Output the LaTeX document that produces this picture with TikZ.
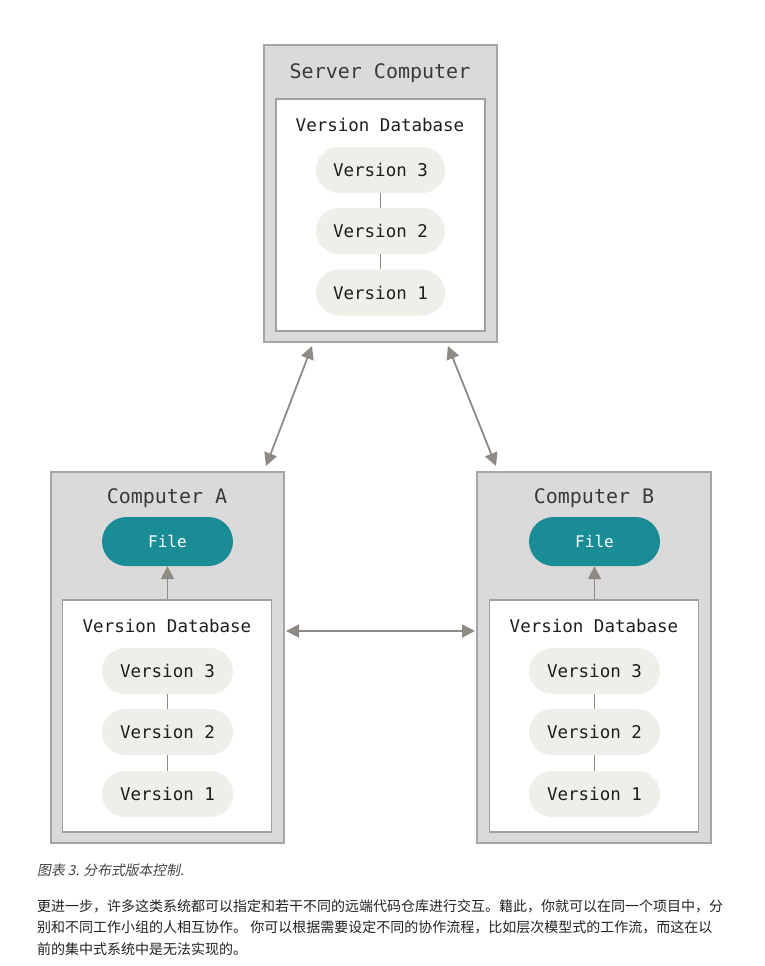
\documentclass[tikz,border=0pt]{standalone}
\usepackage{fontspec}
\setmonofont{DejaVu Sans Mono}
\newfontfamily\cjk{Noto Sans CJK SC}
\newfontfamily\cjkit[FakeSlant=0.2]{Noto Sans CJK SC}
\usetikzlibrary{arrows.meta,calc}
\definecolor{outerfill}{HTML}{DADADA}
\definecolor{outerline}{HTML}{A6A6A6}
\definecolor{innerline}{HTML}{A0A0A0}
\definecolor{pillfill}{HTML}{EFEEE8}
\definecolor{teal}{HTML}{1A8C96}
\definecolor{arrowc}{HTML}{8F8A84}
\definecolor{txt}{HTML}{1E1E1E}
\definecolor{titletxt}{HTML}{3A3A3A}
\definecolor{bodytxt}{HTML}{222222}
\definecolor{captxt}{HTML}{444444}
\tikzset{
  outerbox/.style={draw=outerline, fill=outerfill, line width=2pt, inner sep=0pt},
  innerbox/.style={draw=innerline, fill=white, line width=1.5pt, inner sep=0pt, minimum width=209, minimum height=232},
  titletext/.style={font=\ttfamily\fontsize{20}{24}\selectfont, text=titletxt},
  dbtext/.style={font=\ttfamily\fontsize{17.5}{21}\selectfont, text=txt},
  pill/.style={fill=pillfill, rounded corners=23pt, minimum width=129, minimum height=46, inner sep=0pt, font=\ttfamily\fontsize{17.5}{21}\selectfont, text=txt},
  filepill/.style={fill=teal, rounded corners=24.5pt, minimum width=131, minimum height=49, inner sep=0pt, font=\ttfamily\fontsize{16}{19}\selectfont, text=white},
  link/.style={draw=arrowc, line width=1.2pt},
  arr/.style={draw=arrowc, line width=1.8pt, -{Triangle[length=13pt,width=13pt]}},
  darr/.style={draw=arrowc, line width=1.8pt, {Triangle[length=13pt,width=13pt]}-{Triangle[length=13pt,width=13pt]}}
}
\begin{document}
\begin{tikzpicture}[x=1pt,y=-1pt]
\useasboundingbox[fill=white] (0,0) rectangle (764,966);
% Server
\node[outerbox, minimum width=233, minimum height=297] (srv) at (380.5,193.5) {};
\node[titletext] (srvt) at (380,73) {Server Computer};
\node[innerbox] (srvi) at (380.5,215) {};
\node[dbtext] (srvdb) at (380,125) {Version Database};
\node[pill] (s3) at (380.5,170) {Version 3};
\node[pill] (s2) at (380.5,231) {Version 2};
\node[pill] (s1) at (380.5,292.5) {Version 1};
\draw[link] (s3) -- (s2);
\draw[link] (s2) -- (s1);
% Computer A
\node[outerbox, minimum width=233, minimum height=371] (A) at (167.5,657.5) {};
\node[titletext] (At) at (167,498) {Computer A};
\node[filepill] (Af) at (167.5,541.5) {File};
\node[innerbox] (Ai) at (167,716) {};
\node[dbtext] (Adb) at (167,626) {Version Database};
\node[pill, minimum width=131] (a3) at (167.5,671) {Version 3};
\node[pill, minimum width=131] (a2) at (167.5,732) {Version 2};
\node[pill, minimum width=131] (a1) at (167.5,794) {Version 1};
\draw[link] (a3) -- (a2);
\draw[link] (a2) -- (a1);
\draw[arr] (Af.south |- Ai.north) -- (Af.south);
% Computer B
\node[outerbox, minimum width=234, minimum height=371] (B) at (594,657.5) {};
\node[titletext] (Bt) at (594,498) {Computer B};
\node[filepill] (Bf) at (594.5,541.5) {File};
\node[innerbox] (Bi) at (594,716) {};
\node[dbtext] (Bdb) at (594,626) {Version Database};
\node[pill, minimum width=131] (b3) at (594.5,671) {Version 3};
\node[pill, minimum width=131] (b2) at (594.5,732) {Version 2};
\node[pill, minimum width=131] (b1) at (594.5,794) {Version 1};
\draw[link] (b3) -- (b2);
\draw[link] (b2) -- (b1);
\draw[arr] (Bf.south |- Bi.north) -- (Bf.south);
% Connectors between computers
\draw[darr] ($(srv.south west)+(49,3)$) -- ($(A.north east)+(-19,-5)$);
\draw[darr] ($(srv.south east)+(-50,3)$) -- ($(B.north west)+(20,-5)$);
\draw[darr] ($(A.east)+(1,-26.5)$) -- ($(B.west)+(-1,-26.5)$);
% Caption and text
\node[anchor=west, inner sep=0pt, text=captxt, font=\cjkit\fontsize{13.8}{16}\selectfont] (cap) at (37,870) {图表 3. 分布式版本控制.};
\node[anchor=north west, inner sep=0pt, align=left, text=bodytxt, font=\cjk\fontsize{14}{21.5}\selectfont] (body) at (37,899) {更进一步，许多这类系统都可以指定和若干不同的远端代码仓库进行交互。籍此，你就可以在同一个项目中，分\\别和不同工作小组的人相互协作。 你可以根据需要设定不同的协作流程，比如层次模型式的工作流，而这在以\\前的集中式系统中是无法实现的。};
\end{tikzpicture}
\end{document}
